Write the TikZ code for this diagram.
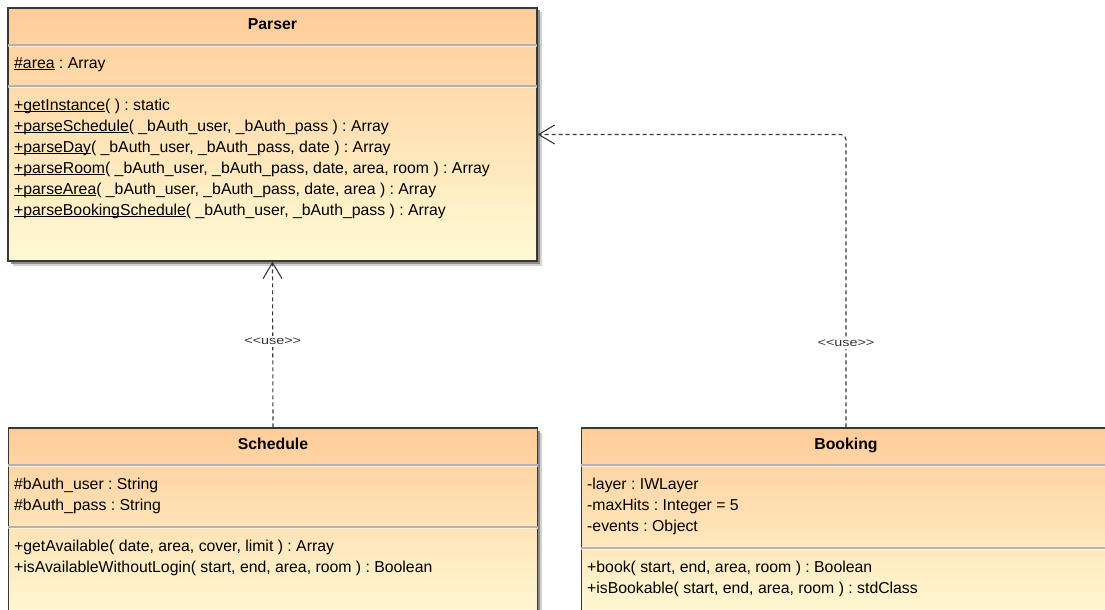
\documentclass[tikz,border=0pt]{standalone}
\usepackage{fontspec}
\setmainfont{Liberation Sans}
\newfontfamily\stereofont[FakeStretch=1.25]{Liberation Sans}
\usetikzlibrary{arrows.meta,shadows}
\frenchspacing

\definecolor{classtop}{RGB}{255,204,153}
\definecolor{classbot}{RGB}{255,250,212}
\definecolor{edgegray}{RGB}{55,55,55}
\definecolor{sepgray}{RGB}{178,178,178}

% underline at a fixed depth below the baseline
\newcommand\ulname[1]{\setbox0\hbox{#1}\rlap{\rule[-1.8pt]{\wd0}{0.9pt}}\box0\relax}

\tikzset{
  classbox/.style={draw=edgegray, line width=1.2pt, top color=classtop,
    bottom color=classbot, minimum width=529pt, inner sep=0pt,
    drop shadow={shadow xshift=4.5pt, shadow yshift=-4.5pt, fill=black!18, opacity=1},
    drop shadow={shadow xshift=2.5pt, shadow yshift=-2.5pt, fill=black!45, opacity=1}},
  classtitle/.style={font=\fontsize{15.8}{18}\selectfont\bfseries, anchor=base, inner sep=0pt},
  member/.style={font=\fontsize{15.8}{18}\selectfont, anchor=base west, inner sep=0pt},
  sepline/.style={sepgray, line width=1.6pt},
  sephigh/.style={white, opacity=0.6, line width=1pt},
  usedep/.style={draw=edgegray, line width=1.1pt, dash pattern=on 4pt off 3pt,
    -{Straight Barb[length=16pt,width=19pt,line width=1.1pt]}},
  stereo/.style={font=\stereofont\fontsize{11.5}{13}\selectfont, fill=white,
    inner sep=2pt, text=black!80},
}

\begin{document}
\begin{tikzpicture}[x=1pt,y=-1pt]
\useasboundingbox (0,0) rectangle (1105,610);
\clip (0,0) rectangle (1105,610);

% ---------- Parser ----------
\node[classbox, minimum height=253pt] (parser) at (272.5,134.5) {};
\draw[sepline] (8,45) -- (537,45);
\draw[sephigh] (8,46.5) -- (537,46.5);
\draw[sepline] (8,86) -- (537,86);
\draw[sephigh] (8,87.5) -- (537,87.5);
\node[classtitle] (parsertitle) at (272.5,29.5) {Parser};
\node[member] (pa1) at (14,68.5) {\ulname{\#area} : Array};
\node[member] (pm1) at (14,110.5) {\ulname{+getInstance}( ) : static};
\node[member] (pm2) at (14,131.5) {\ulname{+parseSchedule}( \_bAuth\_user, \_bAuth\_pass ) : Array};
\node[member] (pm3) at (14,152.5) {\ulname{+parseDay}( \_bAuth\_user, \_bAuth\_pass, date ) : Array};
\node[member] (pm4) at (14,173.5) {\ulname{+parseRoom}( \_bAuth\_user, \_bAuth\_pass, date, area, room ) : Array};
\node[member] (pm5) at (14,194.5) {\ulname{+parseArea}( \_bAuth\_user, \_bAuth\_pass, date, area ) : Array};
\node[member] (pm6) at (14,215.5) {\ulname{+parseBookingSchedule}( \_bAuth\_user, \_bAuth\_pass ) : Array};

% ---------- Schedule ----------
\node[classbox, minimum height=192pt] (schedule) at (273,524) {};
\draw[sepline] (8,465) -- (538,465);
\draw[sephigh] (8,466.5) -- (538,466.5);
\draw[sepline] (8,527) -- (538,527);
\draw[sephigh] (8,528.5) -- (538,528.5);
\node[classtitle] (scheduletitle) at (273,449) {Schedule};
\node[member] (sa1) at (14,489.5) {\#bAuth\_user : String};
\node[member] (sa2) at (14,510) {\#bAuth\_pass : String};
\node[member] (sm1) at (14,551.5) {+getAvailable( date, area, cover, limit ) : Array};
\node[member] (sm2) at (14,572.5) {+isAvailableWithoutLogin( start, end, area, room ) : Boolean};

% ---------- Booking ----------
\node[classbox, minimum height=192pt] (booking) at (846,524) {};
\draw[sepline] (581,465) -- (1111,465);
\draw[sephigh] (581,466.5) -- (1111,466.5);
\draw[sepline] (581,548) -- (1111,548);
\draw[sephigh] (581,549.5) -- (1111,549.5);
\node[classtitle] (bookingtitle) at (846,449) {Booking};
\node[member] (ba1) at (587,489.5) {-layer : IWLayer};
\node[member] (ba2) at (587,510.5) {-maxHits : Integer = 5};
\node[member] (ba3) at (587,531.5) {-events : Object};
\node[member] (bm1) at (587,572) {+book( start, end, area, room ) : Boolean};
\node[member] (bm2) at (587,593) {+isBookable( start, end, area, room ) : stdClass};

% ---------- dependencies ----------
\draw[usedep] (schedule.north) -- node[stereo, pos=0.52] (use1) {<<use>>} (parser.south);
\draw[usedep, rounded corners=5pt] (booking.north) |- node[stereo, pos=0.143] (use2) {<<use>>} (parser.east);
\end{tikzpicture}
\end{document}
